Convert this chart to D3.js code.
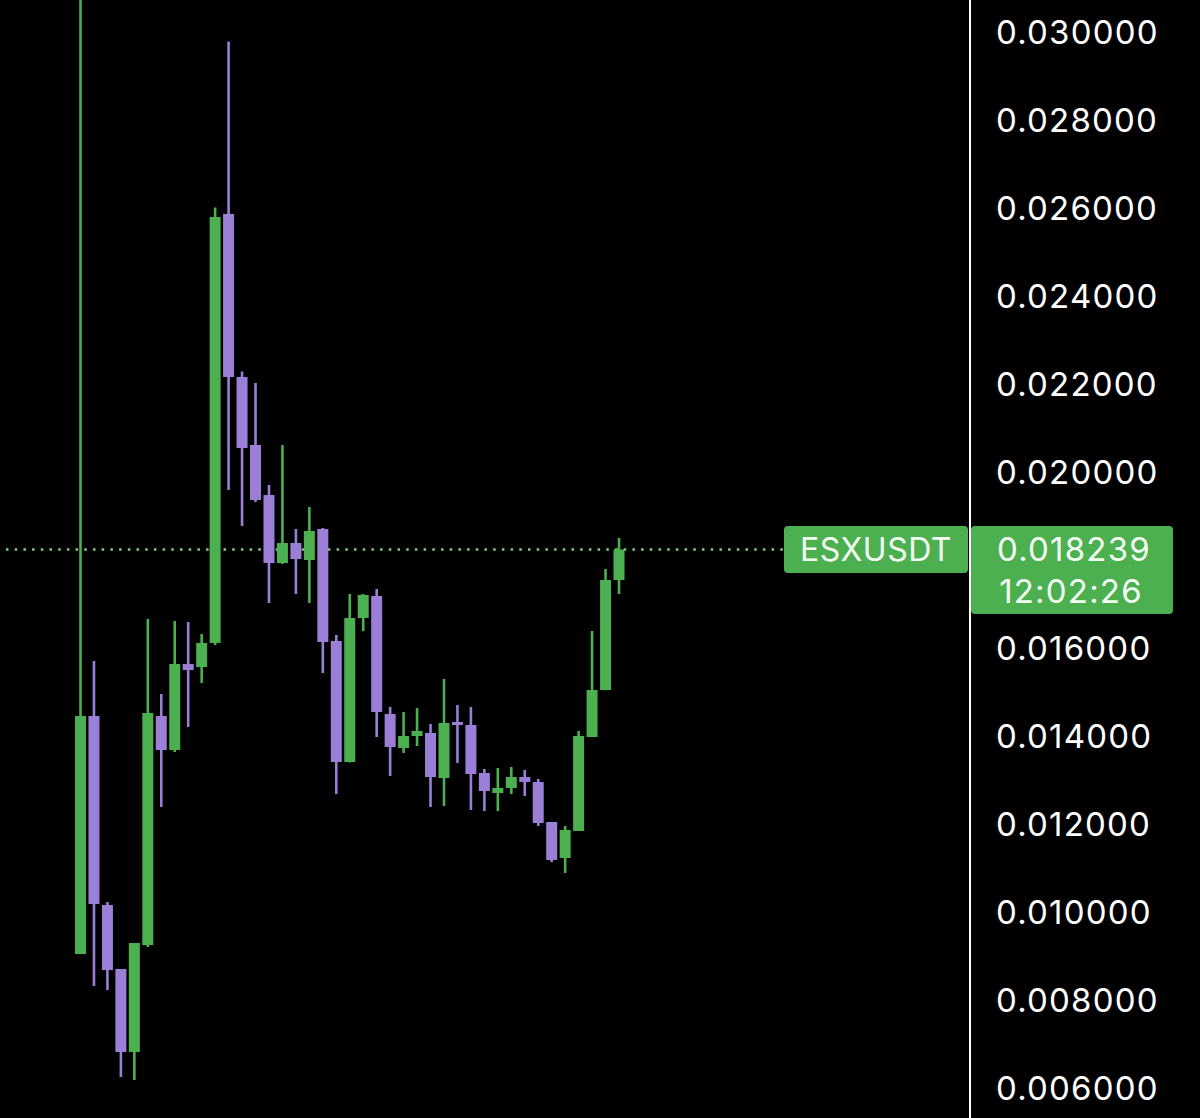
<!DOCTYPE html>
<html>
<head>
<meta charset="utf-8">
<script src="https://cdn.jsdelivr.net/npm/d3@7"></script>
<style>
  html, body { margin: 0; padding: 0; background: #000; }
  svg { display: block; }
</style>
</head>
<body>
<svg id="chart" width="1200" height="1118"></svg>
<script>
// ---- Data (ESXUSDT candles) ----
const opens  = [0.009045,0.014455,0.010159,0.008705,0.006818,0.009250,0.014455,0.013682,0.015636,0.015568,
                0.016114,0.025864,0.022159,0.020614,0.019477,0.017932,0.018386,0.018000,0.018705,0.016159,
                0.013409,0.016682,0.017182,0.014500,0.013727,0.014000,0.014068,0.013045,0.014318,0.014250,
                0.013159,0.012705,0.012818,0.013068,0.012955,0.012045,0.011227,0.011841,0.013977,0.015045,
                0.017545];
const highs  = [0.031500,0.015705,0.010227,0.008705,0.009295,0.016659,0.014955,0.016614,0.016591,0.016318,
                0.026011,0.029784,0.022284,0.022023,0.019705,0.020614,0.018705,0.019205,0.018727,0.016295,
                0.017227,0.017227,0.017341,0.014659,0.014545,0.014636,0.014273,0.015295,0.014705,0.014659,
                0.013250,0.013273,0.013295,0.013227,0.013023,0.012045,0.011955,0.014114,0.016386,0.017795,
                0.018500];
const lows   = [0.009045,0.008318,0.008227,0.006250,0.006182,0.009205,0.012386,0.013636,0.014205,0.015205,
                0.016070,0.019591,0.018773,0.019320,0.017023,0.017910,0.017227,0.017023,0.015432,0.012682,
                0.013400,0.016386,0.013977,0.013091,0.013614,0.013773,0.012386,0.012409,0.013386,0.012318,
                0.012295,0.012295,0.012682,0.012636,0.011955,0.011136,0.010886,0.011840,0.013980,0.015040,
                0.017227];
const closes = [0.014455,0.010182,0.008682,0.006818,0.009295,0.014523,0.013682,0.015636,0.015500,0.016114,
                0.025795,0.022159,0.020545,0.019364,0.017932,0.018386,0.018023,0.018659,0.016136,0.013409,
                0.016682,0.017205,0.014545,0.013750,0.014000,0.014114,0.013068,0.014295,0.014250,0.013136,
                0.012750,0.012818,0.013068,0.012955,0.012023,0.011182,0.011864,0.014000,0.015045,0.017545,
                0.018239];
const tickValues = [0.030,0.028,0.026,0.024,0.022,0.020,0.016,0.014,0.012,0.010,0.008,0.006];
const symbol = "ESXUSDT";
const lastPrice = 0.018239;
const countdown = "12:02:26";

// ---- Build ----
const candles = opens.map((o, i) => ({ i, o, h: highs[i], l: lows[i], c: closes[i] }));

const UP = "#4caf50", DOWN = "#9b7fd6";
const svg = d3.select("#chart");

const y = d3.scaleLinear().domain([0.006, 0.030]).range([1088, 32]);
const x = d3.scaleLinear().domain([0, candles.length - 1]).range([80.5, 619]);
const bodyW = 11;

// current price dotted line
svg.append("line")
  .attr("x1", 6).attr("x2", 784)
  .attr("y1", y(lastPrice)).attr("y2", y(lastPrice))
  .attr("stroke", "#7fcf82").attr("stroke-width", 2.5)
  .attr("stroke-dasharray", "2.5,6.2");

const g = svg.append("g");
const cg = g.selectAll("g.candle").data(candles).join("g").attr("class", "candle");
cg.append("line")
  .attr("x1", d => x(d.i)).attr("x2", d => x(d.i))
  .attr("y1", d => y(d.h)).attr("y2", d => y(d.l))
  .attr("stroke", d => d.c >= d.o ? UP : DOWN)
  .attr("stroke-width", 2.6);
cg.append("rect")
  .attr("x", d => x(d.i) - bodyW / 2)
  .attr("width", bodyW)
  .attr("y", d => y(Math.max(d.o, d.c)))
  .attr("height", d => Math.max(2, Math.abs(y(d.o) - y(d.c))))
  .attr("fill", d => d.c >= d.o ? UP : DOWN);

// right axis line
svg.append("line")
  .attr("x1", 970).attr("x2", 970).attr("y1", 0).attr("y2", 1118)
  .attr("stroke", "#ffffff").attr("stroke-width", 2);

// y axis labels
const axis = d3.axisRight(y).tickValues(tickValues).tickFormat(d3.format(".6f")).tickSize(0).tickPadding(0);
const ag = svg.append("g").attr("transform", "translate(996,0)").call(axis);
ag.select(".domain").remove();
ag.selectAll("text")
  .attr("fill", "#ffffff")
  .attr("font-family", "Inter, 'Noto Sans', sans-serif")
  .attr("font-size", 33)
  .attr("letter-spacing", "1.2px")
  .attr("dy", "0.36em");

// symbol label
const py = y(lastPrice);
svg.append("rect")
  .attr("x", 784).attr("y", py - 23.5).attr("width", 184).attr("height", 47)
  .attr("rx", 4).attr("fill", UP);
svg.append("text")
  .attr("x", 876).attr("y", py).attr("dy", "0.36em")
  .attr("text-anchor", "middle")
  .attr("fill", "#f2fff2")
  .attr("font-family", "Inter, 'Noto Sans', sans-serif")
  .attr("font-size", 32).attr("letter-spacing", "0.5px")
  .text(symbol);

// price + countdown box
svg.append("rect")
  .attr("x", 971).attr("y", py - 23.5).attr("width", 202).attr("height", 88)
  .attr("rx", 4).attr("fill", UP);
svg.append("text")
  .attr("x", 1074).attr("y", py).attr("dy", "0.36em")
  .attr("text-anchor", "middle")
  .attr("fill", "#f2fff2")
  .attr("font-family", "Inter, 'Noto Sans', sans-serif")
  .attr("font-size", 33).attr("letter-spacing", "1.2px")
  .text(d3.format(".6f")(lastPrice));
svg.append("text")
  .attr("x", 1071).attr("y", py + 42).attr("dy", "0.36em")
  .attr("text-anchor", "middle")
  .attr("fill", "#f2fff2")
  .attr("font-family", "Inter, 'Noto Sans', sans-serif")
  .attr("font-size", 33).attr("letter-spacing", "1.2px")
  .text(countdown);
</script>
</body>
</html>
